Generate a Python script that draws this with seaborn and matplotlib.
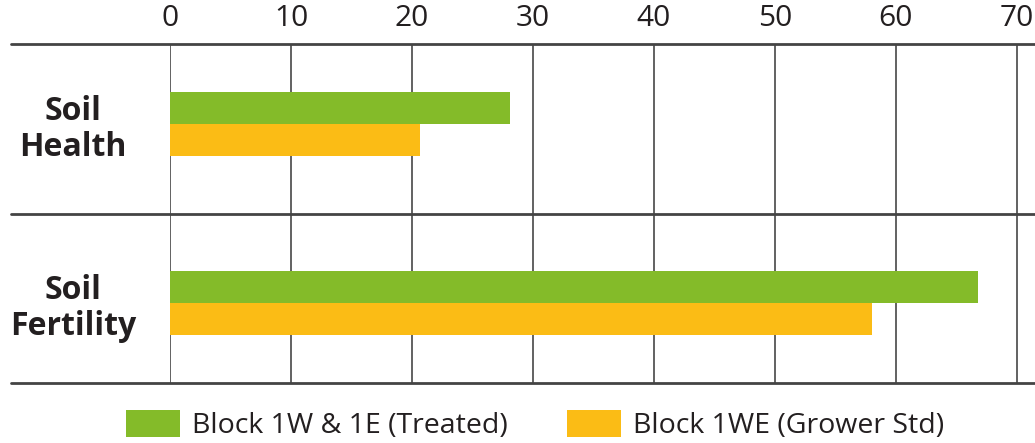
import pandas as pd
import matplotlib.pyplot as plt
import seaborn as sns

categories = ["Soil\nHealth", "Soil\nFertility"]
series = ["Block 1W & 1E (Treated)", "Block 1WE (Grower Std)"]
treated = [28.1, 66.8]
grower = [20.7, 58.0]
colors = ["#84BB29", "#FBBC15"]
ticks = [0, 10, 20, 30, 40, 50, 60, 70]

df = pd.DataFrame({
    "category": categories * 2,
    "series": [series[0]] * 2 + [series[1]] * 2,
    "value": treated + grower,
})

sns.set_style("white")
plt.rcParams['font.family'] = ['Open Sans', 'DejaVu Sans']

fig = plt.figure(figsize=(10.35, 4.43), dpi=100)
ax = fig.add_axes([0.1643, 0.1354, 0.8357, 0.7653])

sns.barplot(data=df, x="value", y="category", hue="series", hue_order=series,
            palette=colors, width=0.36, saturation=1, orient="h", ax=ax,
            linewidth=0)

ax.set_xlim(0, 71.5)
ax.set_ylim(1.447, -0.447)
ax.set_xticks(ticks)
ax.xaxis.tick_top()
ax.tick_params(axis='x', length=0, pad=8, labelsize=21.5, labelcolor='#231f20')
ax.tick_params(axis='y', length=0, pad=70, labelsize=23)
for lab in ax.get_yticklabels():
    lab.set_horizontalalignment('center')
    lab.set_fontweight('bold')
    lab.set_color('#231f20')
    lab.set_linespacing(1.1)
ax.set_xlabel("")
ax.set_ylabel("")
ax.grid(axis='x', color='#555555', lw=1.3)
ax.set_axisbelow(True)
for s in ax.spines.values():
    s.set_visible(False)
for yv in [-0.447, 0.5, 1.447]:
    ax.axhline(yv, xmin=-0.184, xmax=1, color='#444444', lw=2, clip_on=False)

handles, labels = ax.get_legend_handles_labels()
ax.get_legend().remove()
fig.legend(handles, labels, loc='center', bbox_to_anchor=(0.517, 0.04), ncol=2,
           frameon=False, fontsize=20.5, handlelength=1.9, handleheight=1.07,
           handletextpad=0.42, columnspacing=2.07, labelcolor='#231f20')

fig.savefig("out.png", dpi=100)
